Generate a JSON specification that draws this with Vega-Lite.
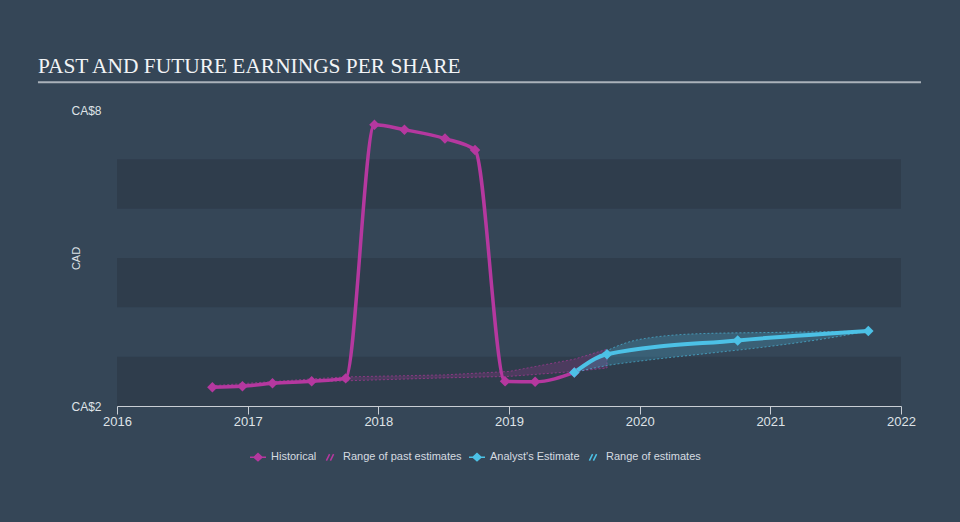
{
  "$schema": "https://vega.github.io/schema/vega-lite/v6.json",
  "width": 784,
  "height": 296,
  "autosize": {"type": "none"},
  "padding": {"left": 117, "top": 110, "right": 59, "bottom": 116},
  "background": "#354657",
  "title": {
    "text": "PAST AND FUTURE EARNINGS PER SHARE",
    "anchor": "start",
    "frame": "group",
    "dx": -79,
    "dy": 21,
    "offset": 8,
    "baseline": "alphabetic",
    "font": "Liberation Serif",
    "fontSize": 21.4,
    "fontWeight": "normal",
    "color": "#f2f4f6"
  },
  "config": {
    "view": {"stroke": null},
    "axis": {"labelFont": "Liberation Sans", "titleFont": "Liberation Sans"},
    "legend": {"labelFont": "Liberation Sans"}
  },
  "datasets": {
    "bands": [
      {"lo": 2, "hi": 3},
      {"lo": 4, "hi": 5},
      {"lo": 6, "hi": 7}
    ],
    "pastRange": [
      {"year": 2016.72, "low": 2.39, "high": 2.41},
      {"year": 2017.0, "low": 2.42, "high": 2.46},
      {"year": 2017.5, "low": 2.49, "high": 2.55},
      {"year": 2017.75, "low": 2.51, "high": 2.59},
      {"year": 2018.5, "low": 2.57, "high": 2.63},
      {"year": 2019.0, "low": 2.6, "high": 2.7},
      {"year": 2019.5, "low": 2.7, "high": 2.95},
      {"year": 2019.75, "low": 2.77, "high": 3.15}
    ],
    "estRange": [
      {"year": 2019.5, "low": 2.68, "high": 2.68},
      {"year": 2019.75, "low": 2.82, "high": 3.12},
      {"year": 2020.0, "low": 2.91, "high": 3.35},
      {"year": 2020.5, "low": 3.06, "high": 3.47},
      {"year": 2021.0, "low": 3.21, "high": 3.49},
      {"year": 2021.5, "low": 3.4, "high": 3.51},
      {"year": 2021.75, "low": 3.52, "high": 3.52}
    ],
    "points": [
      {"year": 2016.73, "eps": 2.38, "series": "Historical"},
      {"year": 2016.96, "eps": 2.4, "series": "Historical"},
      {"year": 2017.19, "eps": 2.46, "series": "Historical"},
      {"year": 2017.49, "eps": 2.5, "series": "Historical"},
      {"year": 2017.75, "eps": 2.56, "series": "Historical"},
      {"year": 2017.97, "eps": 7.7, "series": "Historical"},
      {"year": 2018.2, "eps": 7.6, "series": "Historical"},
      {"year": 2018.51, "eps": 7.42, "series": "Historical"},
      {"year": 2018.74, "eps": 7.19, "series": "Historical"},
      {"year": 2018.97, "eps": 2.5, "series": "Historical"},
      {"year": 2019.2, "eps": 2.49, "series": "Historical"},
      {"year": 2019.5, "eps": 2.68, "series": "Historical"},
      {"year": 2019.5, "eps": 2.68, "series": "Analyst's Estimate"},
      {"year": 2019.75, "eps": 3.05, "series": "Analyst's Estimate"},
      {"year": 2020.75, "eps": 3.33, "series": "Analyst's Estimate"},
      {"year": 2021.75, "eps": 3.52, "series": "Analyst's Estimate"}
    ],
    "underline": [
      {"x1": 2015.395, "x2": 2022.153, "y": 8.56}
    ]
  },
  "layer": [
    {
      "data": {"name": "bands"},
      "mark": {"type": "rect", "color": "#2f3d4c"},
      "encoding": {
        "y": {
          "field": "lo", "type": "quantitative",
          "scale": {"domain": [2, 8], "nice": false, "zero": false},
          "axis": {
            "values": [2, 8],
            "labelExpr": "'CA$' + datum.value",
            "domain": false, "ticks": false, "grid": false,
            "labelAlign": "left", "labelPadding": 46,
            "labelColor": "#dfe3e7", "labelFontSize": 12,
            "title": "CAD", "titleColor": "#dfe3e7", "titleFontSize": 11,
            "titleFontWeight": "normal", "titleX": -36, "titleY": 148
          }
        },
        "y2": {"field": "hi"}
      }
    },
    {
      "data": {"name": "pastRange"},
      "mark": {"type": "area", "color": "#b5389f", "fillOpacity": 0.22, "stroke": "#b5389f", "strokeWidth": 0.8, "strokeDash": [2, 2], "strokeOpacity": 0.8},
      "encoding": {
        "x": {
          "field": "year", "type": "quantitative",
          "scale": {"domain": [2016, 2022], "nice": false, "zero": false},
          "axis": {
            "values": [2016, 2017, 2018, 2019, 2020, 2021, 2022],
            "format": "d", "grid": false, "labelFlush": false,
            "domainColor": "#c9ced4", "tickColor": "#c9ced4", "tickSize": 8,
            "labelColor": "#dfe3e7", "labelFontSize": 13, "labelPadding": 1,
            "title": null
          }
        },
        "y": {"field": "low", "type": "quantitative"},
        "y2": {"field": "high"}
      }
    },
    {
      "data": {"name": "estRange"},
      "mark": {"type": "area", "color": "#4cc1e6", "fillOpacity": 0.22, "stroke": "#4cc1e6", "strokeWidth": 0.8, "strokeDash": [2, 2], "strokeOpacity": 0.8, "interpolate": "monotone"},
      "encoding": {
        "x": {"field": "year", "type": "quantitative"},
        "y": {"field": "low", "type": "quantitative"},
        "y2": {"field": "high"}
      }
    },
    {
      "data": {"name": "points"},
      "transform": [{"filter": "datum.series == 'Historical'"}],
      "mark": {"type": "line", "color": "#b5389f", "strokeWidth": 3.5, "interpolate": "monotone"},
      "encoding": {
        "x": {"field": "year", "type": "quantitative"},
        "y": {"field": "eps", "type": "quantitative"}
      }
    },
    {
      "data": {"name": "points"},
      "transform": [{"filter": "datum.series != 'Historical'"}],
      "mark": {"type": "line", "color": "#4cc1e6", "strokeWidth": 4, "interpolate": "monotone"},
      "encoding": {
        "x": {"field": "year", "type": "quantitative"},
        "y": {"field": "eps", "type": "quantitative"}
      }
    },
    {
      "data": {"name": "points"},
      "mark": {"type": "point", "shape": "diamond", "filled": true, "size": 110, "opacity": 1},
      "encoding": {
        "x": {"field": "year", "type": "quantitative"},
        "y": {"field": "eps", "type": "quantitative"},
        "color": {
          "field": "series", "type": "nominal",
          "scale": {
            "domain": ["Historical", "Range of past estimates", "Analyst's Estimate", "Range of estimates"],
            "range": ["#b5389f", "#b5389f", "#4cc1e6", "#4cc1e6"]
          }
        }
      }
    },
    {
      "data": {"name": "points"},
      "mark": {"type": "point", "filled": true, "opacity": 0},
      "encoding": {
        "x": {"field": "year", "type": "quantitative"},
        "y": {"field": "eps", "type": "quantitative"},
        "color": {
          "field": "series", "type": "nominal",
          "legend": {
            "orient": "none",
            "legendX": 132,
            "legendY": 338,
            "direction": "horizontal",
            "title": null,
            "columnPadding": 4,
            "labelColor": "#d6dbe0",
            "labelFontSize": 11,
            "labelOffset": 4,
            "symbolSize": 256,
            "symbolStrokeWidth": 1.5,
            "encode": {
              "symbols": {
                "update": {
                  "opacity": {"value": 1},
                  "stroke": {"scale": "color", "field": "value"},
                  "fill": {"scale": "color", "field": "value"}
                }
              }
            }
          }
        },
        "shape": {
          "field": "series", "type": "nominal",
          "scale": {
            "domain": ["Historical", "Range of past estimates", "Analyst's Estimate", "Range of estimates"],
            "range": [
              "M-1,0L1,0M0,-0.45L0.5,0L0,0.45L-0.5,0Z",
              "M-0.45,0.4L-0.05,-0.4M0.05,0.4L0.45,-0.4",
              "M-1,0L1,0M0,-0.45L0.5,0L0,0.45L-0.5,0Z",
              "M-0.45,0.4L-0.05,-0.4M0.05,0.4L0.45,-0.4"
            ]
          }
        }
      }
    },
    {
      "data": {"name": "underline"},
      "mark": {"type": "rule", "clip": false, "color": "#aab2ba", "strokeWidth": 2},
      "encoding": {
        "x": {"field": "x1", "type": "quantitative"},
        "x2": {"field": "x2"},
        "y": {"field": "y", "type": "quantitative"}
      }
    }
  ]
}
